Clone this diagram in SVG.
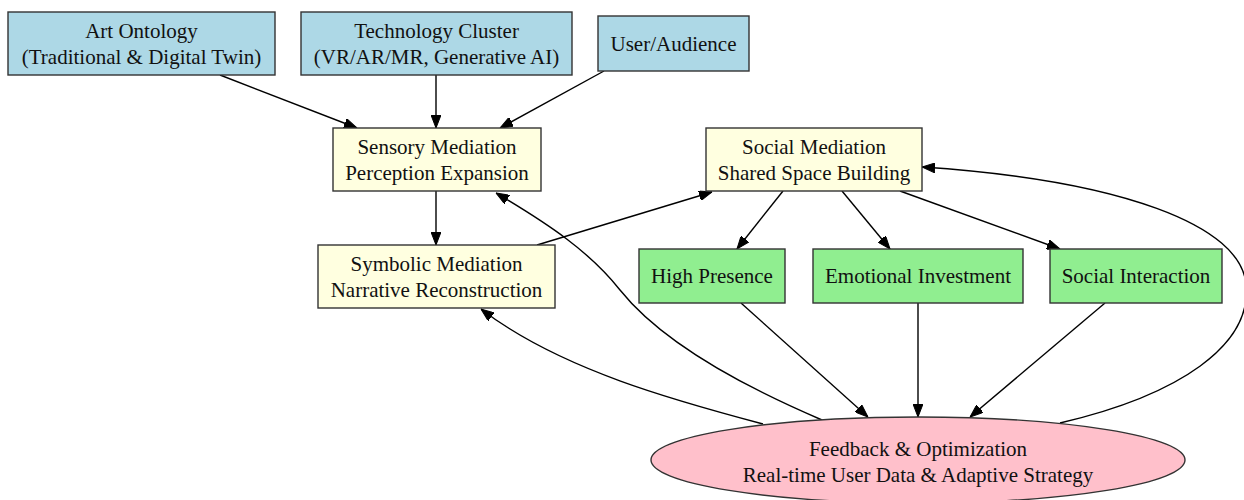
<svg xmlns="http://www.w3.org/2000/svg" width="1244" height="500" viewBox="0 0 1244 500">
  <defs>
    <marker id="arrow" markerUnits="userSpaceOnUse" markerWidth="13" markerHeight="10" viewBox="0 0 13 10" refX="13" refY="5" orient="auto">
      <path d="M0,0 L13,5 L0,10 z" fill="#000" stroke="#000" stroke-width="1"/>
    </marker>
  </defs>
  <style>
    .node rect, .node ellipse { stroke: #333; stroke-width: 1.4; }
    .src rect { fill: #ADD8E6; }
    .med rect { fill: #FFFFE0; }
    .out rect { fill: #90EE90; }
    .fb ellipse { fill: #FFC0CB; }
    text { font-family: "Liberation Serif", "Times New Roman", serif; font-size: 21px; fill: #111; text-anchor: middle; }
    .edges path { fill: none; stroke: #000; stroke-width: 1.4; marker-end: url(#arrow); }
  </style>
  <rect width="1244" height="500" fill="#fff"/>

  <g class="edges">
    <path d="M220,75 L357,128"/>
    <path d="M436,75 L436,128"/>
    <path d="M604,71 L500,128"/>
    <path d="M436,191 L436,245"/>
    <path d="M537,245 L712,192"/>
    <path d="M783,191 L737,249"/>
    <path d="M842,191 L890,249"/>
    <path d="M900,191 L1060,249"/>
    <path d="M741,303 L868,417"/>
    <path d="M918,303 L918,417"/>
    <path d="M1105,303 L970,417"/>
    <path d="M763,424 C680,402 560,370 481,309"/>
    <path d="M822,420 C740,385 660,340 620,290 C590,252 550,225 496,193"/>
    <path d="M1060,423 C1180,395 1252,345 1246,285 C1242,225 1120,180 922,167"/>
  </g>

  <g id="art-ontology" class="node src">
    <rect x="8" y="12" width="267" height="63"/>
    <text x="141.5" y="38">Art Ontology</text>
    <text x="141.5" y="64">(Traditional &amp; Digital Twin)</text>
  </g>
  <g id="technology-cluster" class="node src">
    <rect x="301" y="12" width="271" height="63"/>
    <text x="436.5" y="38">Technology Cluster</text>
    <text x="436.5" y="64">(VR/AR/MR, Generative AI)</text>
  </g>
  <g id="user-audience" class="node src">
    <rect x="598" y="16" width="151" height="55"/>
    <text x="673.5" y="51">User/Audience</text>
  </g>

  <g id="sensory-mediation" class="node med">
    <rect x="333" y="128" width="208" height="63"/>
    <text x="437" y="154">Sensory Mediation</text>
    <text x="437" y="180">Perception Expansion</text>
  </g>
  <g id="symbolic-mediation" class="node med">
    <rect x="318" y="245" width="237" height="63"/>
    <text x="436.5" y="271">Symbolic Mediation</text>
    <text x="436.5" y="297">Narrative Reconstruction</text>
  </g>
  <g id="social-mediation" class="node med">
    <rect x="706" y="128" width="216" height="63"/>
    <text x="814" y="154">Social Mediation</text>
    <text x="814" y="180">Shared Space Building</text>
  </g>

  <g id="high-presence" class="node out">
    <rect x="639" y="249" width="146" height="54"/>
    <text x="712" y="283">High Presence</text>
  </g>
  <g id="emotional-investment" class="node out">
    <rect x="813" y="249" width="210" height="54"/>
    <text x="918" y="283">Emotional Investment</text>
  </g>
  <g id="social-interaction" class="node out">
    <rect x="1050" y="249" width="172" height="54"/>
    <text x="1136" y="283">Social Interaction</text>
  </g>

  <g id="feedback-optimization" class="node fb">
    <ellipse cx="918" cy="460" rx="267" ry="43"/>
    <text x="918" y="456">Feedback &amp; Optimization</text>
    <text x="918" y="482">Real-time User Data &amp; Adaptive Strategy</text>
  </g>
</svg>
